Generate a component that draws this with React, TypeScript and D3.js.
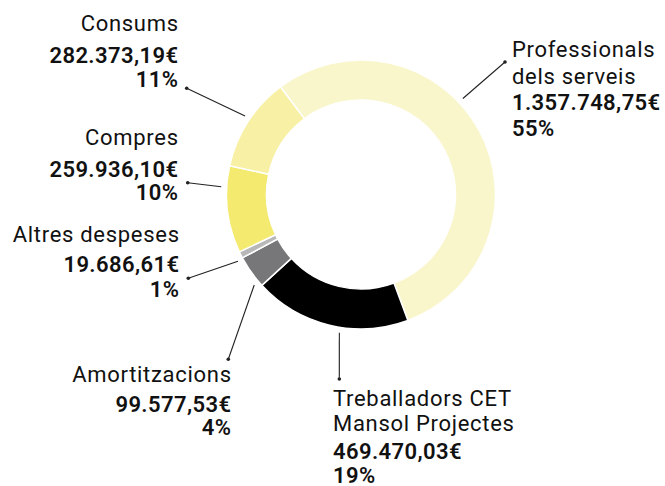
import React from 'react';
import * as d3 from 'd3';

const categories = ['Professionals dels serveis', 'Treballadors CET Mansol Projectes', 'Amortitzacions', 'Altres despeses', 'Compres', 'Consums'];
const nameLines = [['Professionals', 'dels serveis'], ['Treballadors CET', 'Mansol Projectes'], ['Amortitzacions'], ['Altres despeses'], ['Compres'], ['Consums']];
const values = [1357748.75, 469470.03, 99577.53, 19686.61, 259936.10, 282373.19];
const colors = ['#faf6cc', '#000000', '#77777a', '#b8b8b8', '#f4ea70', '#f8f0a4'];

// label layout (positions only)
const labelLayout = [
  { x: 512, anchor: 'start', names: [57, 84], value: 110, pct: 136, dot: [505, 62], angle: 46.7 },
  { x: 333, anchor: 'start', names: [405.5, 431], value: 459, pct: 483, dot: [339.3, 379], angle: 188.9 },
  { x: 231, anchor: 'end', names: [382], value: 411.5, pct: 434.5, dot: [228.3, 359.3], angle: 229.7 },
  { x: 179, anchor: 'end', names: [242], value: 272, pct: 297, dot: [188.3, 278.3], angle: 241.5 },
  { x: 178, anchor: 'end', names: [145], value: 177, pct: 200, dot: [187.7, 182.7], angle: 273.2 },
  { x: 178, anchor: 'end', names: [31], value: 63, pct: 87, dot: [186.7, 88.3], angle: 304.1 },
];

const W = 665, H = 486;
const cx = 361, cy = 194.5;
const outerR = 134.5, innerR = 94.5;
const startDeg = -36.8;

const locale = d3.formatLocale({ decimal: ',', thousands: '.', grouping: [3], currency: ['', '€'] });
const fmtVal = locale.format(',.2f');

export default function App() {
  const total = d3.sum(values);
  const start = (startDeg * Math.PI) / 180;
  const pie = d3.pie<number>().sort(null).value((d) => d).startAngle(start).endAngle(start + 2 * Math.PI);
  const arcs = pie(values);
  const arcGen = d3.arc<d3.PieArcDatum<number>>().innerRadius(innerR).outerRadius(outerR);
  const font = 'Roboto, "DejaVu Sans", sans-serif';
  const ls = 0.7;
  const lsB = 0.4;

  return (
    <svg width={W} height={H} style={{ position: 'absolute', left: 0, top: 0, background: '#fff' }}>
      <g transform={`translate(${cx},${cy})`}>
        {arcs.map((a, i) => (
          <path key={categories[i]} d={arcGen(a) || ''} fill={colors[i]} stroke="#fff" strokeWidth={1.5} />
        ))}
      </g>
      {labelLayout.map((l, i) => {
        const [px, py] = d3.pointRadial((l.angle * Math.PI) / 180, 140);
        const pct = Math.round((values[i] / total) * 100) + '%';
        const end = l.anchor === 'end';
        return (
          <g key={categories[i]}>
            <line x1={cx + px} y1={cy + py} x2={l.dot[0]} y2={l.dot[1]} stroke="#222" strokeWidth={1.1} />
            <circle cx={l.dot[0]} cy={l.dot[1]} r={1.8} fill="#222" />
            {nameLines[i].map((t, j) => (
              <text key={j} x={l.x + (end ? ls : 0)} y={l.names[j]} textAnchor={l.anchor} fontFamily={font} fontSize={22} letterSpacing={ls} fill="#111">{t}</text>
            ))}
            <text x={l.x + (end ? lsB : 0)} y={l.value} textAnchor={l.anchor} fontFamily={font} fontSize={22} letterSpacing={lsB} fontWeight={600} fill="#111">{fmtVal(values[i]) + '€'}</text>
            <text x={l.x + (end ? lsB : 0)} y={l.pct} textAnchor={l.anchor} fontFamily={font} fontSize={22} letterSpacing={lsB} fontWeight={600} fill="#111">{pct}</text>
          </g>
        );
      })}
    </svg>
  );
}
